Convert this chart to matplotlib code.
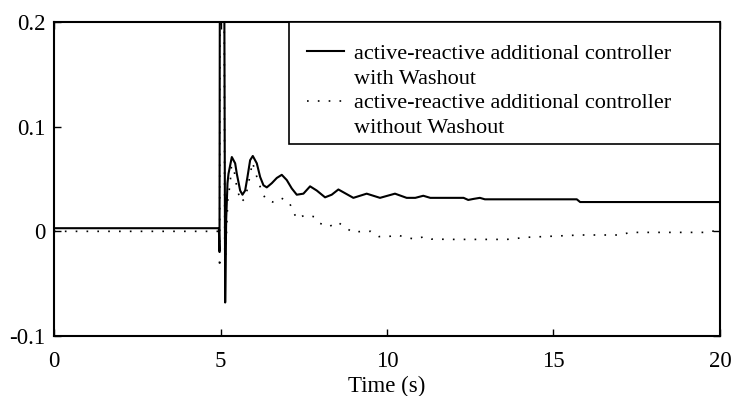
import numpy as np
import matplotlib
matplotlib.use('Agg')
import matplotlib.pyplot as plt
from matplotlib.lines import Line2D
from matplotlib.patches import Rectangle

# solid curve: with Washout
t_with = [0, 4.95, 4.97, 4.99, 5.09, 5.14, 5.17, 5.21, 5.24, 5.34, 5.44, 5.49,
          5.59, 5.66, 5.74, 5.81, 5.89, 5.97, 6.09, 6.19, 6.29, 6.39, 6.54,
          6.69, 6.84, 6.99, 7.14, 7.29, 7.49, 7.69, 7.89, 8.14, 8.34, 8.54,
          8.99, 9.39, 9.79, 10.24, 10.59, 10.85, 11.09, 11.3, 12.3, 12.44,
          12.6, 12.79, 12.94, 15.7, 15.8, 20]
v_with = [0.003, 0.003, -0.019, 0.5, 0.5, -0.068, 0.011, 0.046, 0.055, 0.071,
          0.065, 0.055, 0.039, 0.035, 0.039, 0.052, 0.068, 0.072, 0.065, 0.052,
          0.044, 0.042, 0.046, 0.051, 0.054, 0.049, 0.041, 0.035, 0.036, 0.043,
          0.039, 0.0325, 0.035, 0.040, 0.032, 0.036, 0.032, 0.036, 0.032,
          0.032, 0.034, 0.032, 0.032, 0.030, 0.031, 0.032, 0.0306, 0.0306,
          0.028, 0.028]

# dotted curve: without Washout
t_without = [0, 4.95, 4.975, 4.99, 5.09, 5.13, 5.22, 5.29, 5.33, 5.4, 5.5,
             5.62, 5.75, 5.86, 5.96, 6.06, 6.24, 6.37, 6.56, 6.81, 7.06, 7.17,
             7.29, 7.54, 7.81, 7.99, 8.26, 8.51, 8.74, 8.97, 9.24, 9.51, 9.76,
             10.04, 10.32, 10.57, 10.86, 11.12, 11.33, 12.0, 13.6, 14.2, 15.8,
             17.0, 17.3, 19.5, 19.65, 20]
v_without = [0, 0, -0.035, 0.5, 0.5, -0.04, 0.03, 0.046, 0.063, 0.06, 0.04,
             0.028, 0.032, 0.049, 0.066, 0.055, 0.038, 0.030, 0.028, 0.032,
             0.028, 0.020, 0.012, 0.0156, 0.014, 0.0076, 0.0044, 0.009, 0.004,
             -0.001, 0, 0, -0.005, -0.005, -0.0035, -0.006, -0.0074, -0.005,
             -0.0074, -0.0077, -0.0077, -0.0057, -0.0035, -0.0035, -0.001,
             -0.001, 0.0003, 0]

legend_labels = ['active-reactive additional controller', 'with Washout',
                 'active-reactive additional controller', 'without Washout']
xticks = [0, 5, 10, 15, 20]
yticks = [-0.1, 0, 0.1, 0.2]
ytick_labels = ['-0.1', '0', '0.1', '0.2']

plt.rcParams['font.family'] = 'Liberation Serif'
plt.rcParams['font.size'] = 16.5

fig = plt.figure(figsize=(7.43, 3.96), dpi=100)
ax = fig.add_axes([0.0727, 0.1515, 0.8963, 0.7929])

l1, = ax.plot(t_with, v_with, color='k', lw=1.5)
l2, = ax.plot(t_without, v_without, color='k', lw=1.2, dashes=(1, 5.5))

ax.set_xlim(0, 20)
ax.set_ylim(-0.1, 0.2)
ax.set_xticks(xticks)
ax.set_yticks(yticks)
ax.set_yticklabels(ytick_labels)
ax.tick_params(axis='x', pad=11)
ax.tick_params(axis='y', pad=6)
ax.tick_params(direction='in', top=True, right=True, length=5, width=1)
for s in ax.spines.values():
    s.set_linewidth(1.5)
ax.set_xlabel('Time (s)', labelpad=2.5)

# legend box (frame drawn separately so the padding matches)
ax.add_patch(Rectangle((0.353, 0.611), 0.647, 0.389, transform=ax.transAxes,
                       facecolor='white', edgecolor='k', lw=1.2, zorder=4))
blank = Line2D([], [], color='none')
leg = ax.legend([l1, blank, l2, blank], legend_labels, loc='upper left',
                bbox_to_anchor=(0.380, 0.932), borderaxespad=0, borderpad=0,
                frameon=False, fontsize=16, handlelength=1.65,
                handletextpad=0.45, labelspacing=0.19)
leg.set_zorder(5)

plt.savefig('out.png', dpi=100)
